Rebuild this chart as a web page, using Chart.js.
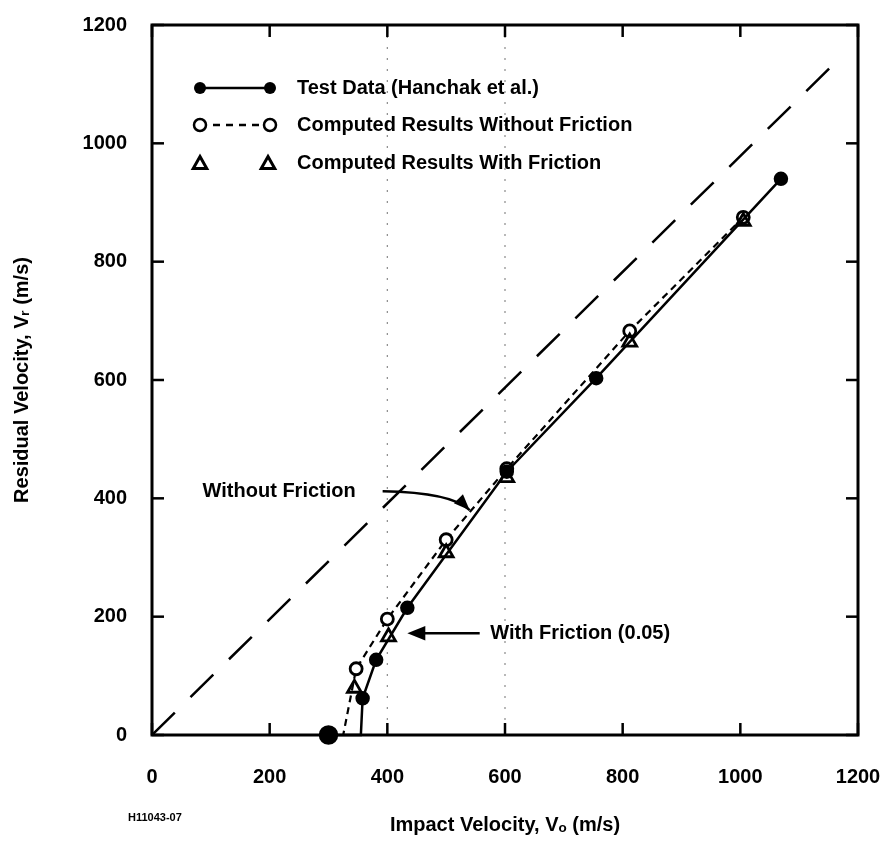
<!DOCTYPE html>
<html>
<head>
<meta charset="utf-8">
<script src="https://cdn.jsdelivr.net/npm/chart.js@4.4.1/dist/chart.umd.min.js"></script>
<style>
    html, body { margin: 0; padding: 0; background: #fff; }
    #wrap { width: 887px; height: 842px; }
</style>
</head>
<body>
<div id="wrap"><canvas id="grafico"></canvas></div>
<script>
// dados (m/s)
const testeX = [300, 355, 358, 381, 434, 603, 755, 1069];
const testeY = [0, 0, 62, 127, 215, 445, 603, 940];

const semAtritoX = [300, 325, 347, 400, 500, 603, 812, 1005];
const semAtritoY = [0, 0, 112, 196, 330, 450, 683, 875];

const comAtritoX = [344, 402, 500, 603, 812, 1005];
const comAtritoY = [79, 166, 308, 435, 664, 868];

const diagonalX = [0, 1165];
const diagonalY = [0, 1140];

const ticksEixo = [0, 200, 400, 600, 800, 1000, 1200];
const linhasPontilhadas = [400, 600];

const FONTE = "'Liberation Sans', Arial, 'DejaVu Sans', sans-serif";

function pares(xs, ys) {
    return xs.map((v, i) => ({ x: v, y: ys[i] }));
}

function linha(ctx, x1, y1, x2, y2) {
    ctx.beginPath();
    ctx.moveTo(x1, y1);
    ctx.lineTo(x2, y2);
    ctx.stroke();
}

function ponta(ctx, x, y, ang, tam) {
    ctx.save();
    ctx.translate(x, y);
    ctx.rotate(ang);
    ctx.beginPath();
    ctx.moveTo(0, 0);
    ctx.lineTo(-tam, -tam * 0.4);
    ctx.lineTo(-tam, tam * 0.4);
    ctx.closePath();
    ctx.fill();
    ctx.restore();
}

function circulo(ctx, x, y, r, cheio) {
    ctx.beginPath();
    ctx.arc(x, y, r, 0, Math.PI * 2);
    if (cheio) { ctx.fill(); } else { ctx.fillStyle = '#fff'; ctx.fill(); ctx.fillStyle = '#000'; ctx.stroke(); }
}

function triangulo(ctx, x, y, r) {
    ctx.beginPath();
    ctx.moveTo(x, y - r);
    ctx.lineTo(x + r * 0.9, y + r * 0.6);
    ctx.lineTo(x - r * 0.9, y + r * 0.6);
    ctx.closePath();
    ctx.stroke();
}

// linhas pontilhadas verticais do original
const fundoPlugin = {
    id: 'fundo',
    beforeDatasetsDraw(chart) {
        const { ctx, chartArea: a, scales: { x } } = chart;
        ctx.save();
        ctx.strokeStyle = '#8a8a8a';
        ctx.lineWidth = 1.2;
        ctx.setLineDash([2, 9]);
        linhasPontilhadas.forEach(v => {
            const px = x.getPixelForValue(v);
            linha(ctx, px, a.top, px, a.bottom);
        });
        ctx.restore();
    }
};

// moldura, ticks internos, legenda e anotações
const molduraPlugin = {
    id: 'moldura',
    afterDatasetsDraw(chart) {
        const { ctx, chartArea: a, scales: { x, y } } = chart;
        ctx.save();
        ctx.strokeStyle = '#000';
        ctx.fillStyle = '#000';
        ctx.lineWidth = 3;
        ctx.strokeRect(a.left, a.top, a.right - a.left, a.bottom - a.top);

        ctx.lineWidth = 2.5;
        ticksEixo.forEach(v => {
            const px = x.getPixelForValue(v);
            const py = y.getPixelForValue(v);
            linha(ctx, px, a.bottom, px, a.bottom - 12);
            linha(ctx, px, a.top, px, a.top + 12);
            linha(ctx, a.left, py, a.left + 12, py);
            linha(ctx, a.right, py, a.right - 12, py);
        });

        // legenda
        const lx1 = a.left + 48, lx2 = a.left + 118, tx = a.left + 145;
        const ly = [a.top + 63, a.top + 100, a.top + 138];
        ctx.font = 'bold 20px ' + FONTE;
        ctx.textBaseline = 'middle';
        ctx.textAlign = 'left';

        ctx.lineWidth = 2.5;
        linha(ctx, lx1, ly[0], lx2, ly[0]);
        circulo(ctx, lx1, ly[0], 6, true);
        circulo(ctx, lx2, ly[0], 6, true);
        ctx.fillText('Test Data (Hanchak et al.)', tx, ly[0]);

        ctx.setLineDash([7, 6]);
        linha(ctx, lx1, ly[1], lx2, ly[1]);
        ctx.setLineDash([]);
        circulo(ctx, lx1, ly[1], 6, false);
        circulo(ctx, lx2, ly[1], 6, false);
        ctx.fillText('Computed Results Without Friction', tx, ly[1]);

        ctx.lineWidth = 3;
        triangulo(ctx, lx1, ly[2] + 1, 7.5);
        triangulo(ctx, lx2 - 2, ly[2] + 1, 7.5);
        ctx.fillText('Computed Results With Friction', tx, ly[2]);

        // anotação "Without Friction"
        ctx.fillText('Without Friction', x.getPixelForValue(86), y.getPixelForValue(411));
        ctx.lineWidth = 2.5;
        const s1 = { x: x.getPixelForValue(392), y: y.getPixelForValue(412) };
        const c1 = { x: x.getPixelForValue(510), y: y.getPixelForValue(410) };
        const p1 = { x: x.getPixelForValue(540), y: y.getPixelForValue(380) };
        ctx.beginPath();
        ctx.moveTo(s1.x, s1.y);
        ctx.quadraticCurveTo(c1.x, c1.y, p1.x, p1.y);
        ctx.stroke();
        ponta(ctx, p1.x, p1.y, Math.atan2(p1.y - c1.y, p1.x - c1.x), 16);

        // anotação "With Friction (0.05)"
        ctx.fillText('With Friction (0.05)', x.getPixelForValue(575), y.getPixelForValue(172));
        const s2 = { x: x.getPixelForValue(557), y: y.getPixelForValue(172) };
        const p2 = { x: x.getPixelForValue(434), y: y.getPixelForValue(172) };
        linha(ctx, s2.x, s2.y, p2.x + 10, p2.y);
        ponta(ctx, p2.x, p2.y, Math.PI, 18);

        // código da figura
        ctx.font = 'bold 11px ' + FONTE;
        ctx.fillText('H11043-07', 128, 818);
        ctx.restore();
    }
};

const ctx = document.getElementById('grafico').getContext('2d');

new Chart(ctx, {
    type: 'scatter',
    data: {
        // no Chart.js o primeiro dataset fica por cima
        datasets: [
            {
                label: 'Test Data (Hanchak et al.)',
                data: pares(testeX, testeY),
                showLine: true,
                tension: 0,
                borderColor: '#000',
                borderWidth: 2.5,
                pointRadius: [8.5, 0, 6, 6, 6, 6, 6, 6],
                pointBackgroundColor: '#000',
                pointBorderColor: '#000',
                clip: false
            },
            {
                label: 'Computed Results With Friction',
                data: pares(comAtritoX, comAtritoY),
                showLine: false,
                pointStyle: 'triangle',
                pointRadius: 8,
                pointBackgroundColor: 'rgba(255,255,255,0)',
                pointBorderColor: '#000',
                pointBorderWidth: 2.8,
                clip: false
            },
            {
                label: 'Computed Results Without Friction',
                data: pares(semAtritoX, semAtritoY),
                showLine: true,
                tension: 0,
                borderColor: '#000',
                borderWidth: 2.2,
                borderDash: [7, 5],
                pointRadius: [5, 0, 6, 6, 6, 6, 6, 6],
                pointBackgroundColor: '#fff',
                pointBorderColor: '#000',
                pointBorderWidth: 2.8,
                clip: false
            },
            {
                label: 'Vr = Vo',
                data: pares(diagonalX, diagonalY),
                showLine: true,
                borderColor: '#000',
                borderWidth: 2.5,
                borderDash: [32, 22],
                pointRadius: 0
            }
        ]
    },
    options: {
        responsive: true,
        maintainAspectRatio: false,
        animation: false,
        layout: { padding: { left: 0, top: 25, right: 29, bottom: 0 } },
        plugins: {
            legend: { display: false },
            tooltip: { enabled: false }
        },
        scales: {
            x: {
                type: 'linear',
                min: 0,
                max: 1200,
                afterFit: s => { s.height = 107; s.paddingLeft = 0; s.paddingRight = 0; },
                afterBuildTicks: s => { s.ticks = ticksEixo.map(v => ({ value: v })); },
                ticks: {
                    color: '#000', padding: 30,
                    font: { family: FONTE, size: 20, weight: 'bold' },
                    callback: v => String(v)
                },
                grid: { display: false, drawTicks: false },
                border: { display: false },
                title: {
                    display: true,
                    text: 'Impact Velocity, V\u2092 (m/s)',
                    color: '#000',
                    font: { family: FONTE, size: 20, weight: 'bold' },
                    padding: { top: 0, bottom: 5 }
                }
            },
            y: {
                type: 'linear',
                min: 0,
                max: 1200,
                afterFit: s => { s.width = 152; s.paddingTop = 0; s.paddingBottom = 0; },
                afterBuildTicks: s => { s.ticks = ticksEixo.map(v => ({ value: v })); },
                ticks: {
                    color: '#000', padding: 25,
                    font: { family: FONTE, size: 20, weight: 'bold' },
                    callback: v => String(v)
                },
                grid: { display: false, drawTicks: false },
                border: { display: false },
                title: {
                    display: true,
                    text: 'Residual Velocity, V\u1D63 (m/s)',
                    color: '#000',
                    font: { family: FONTE, size: 20, weight: 'bold' },
                    padding: { top: 10, bottom: 0 }
                }
            }
        }
    },
    plugins: [fundoPlugin, molduraPlugin]
});
</script>
</body>
</html>
